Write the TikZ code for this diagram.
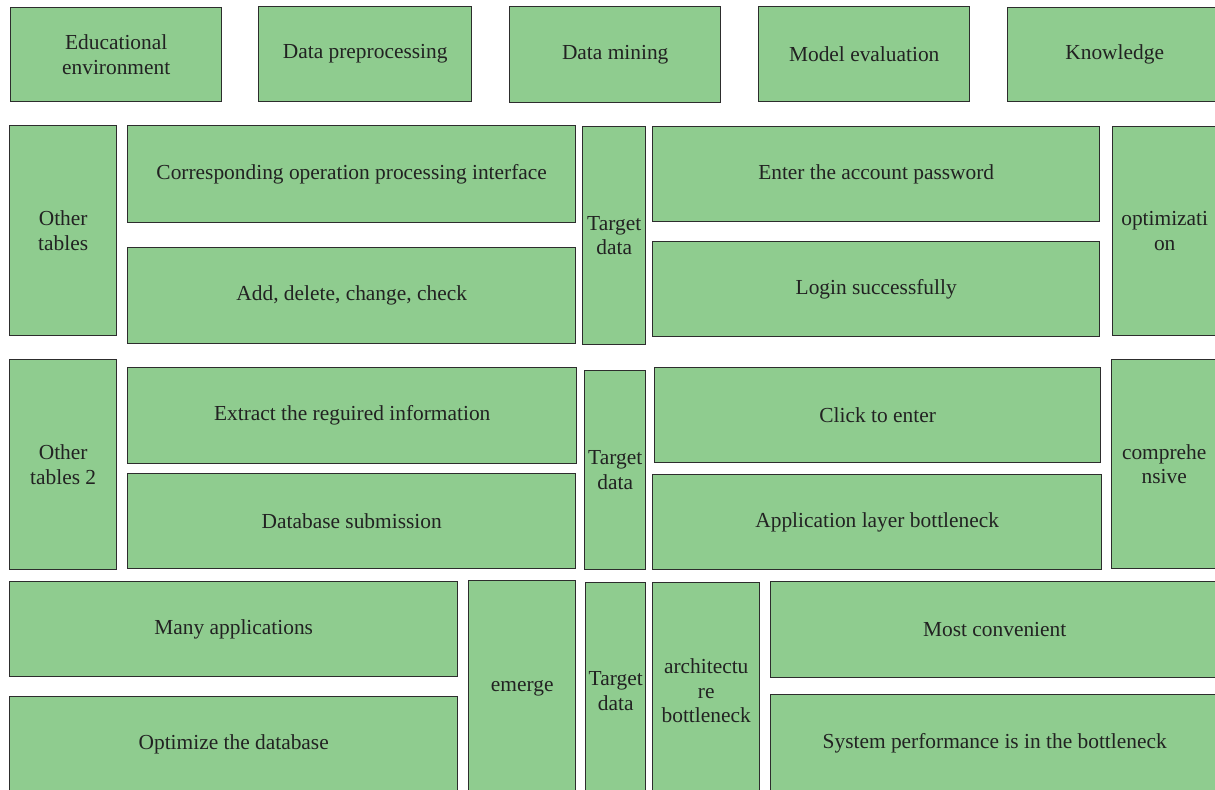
\documentclass[tikz,border=0pt]{standalone}
\usepackage{fontspec}
\setmainfont{Liberation Serif}
\definecolor{boxgreen}{RGB}{143,204,143}
\definecolor{boxline}{RGB}{45,45,45}
\definecolor{boxtext}{RGB}{34,34,34}
\begin{document}
\begin{tikzpicture}[x=0.5pt, y=-0.5pt,
  box/.style={draw=boxline, fill=boxgreen, line width=0.7pt, anchor=north west,
    inner sep=0pt, align=center, text=boxtext, font=\fontsize{10.7}{12.4}\selectfont}]
\useasboundingbox (0,0) rectangle (1215,790);
\clip (0,0) rectangle (1215,790);
% process steps
\foreach \n/\x/\y/\w/\h/\t in {edu/10/7/211/94/{Educational\\environment},
  prep/258/6/213/95/{Data preprocessing}, mining/509/6/211/96/{Data mining},
  evalm/758/6/211/95/{Model evaluation}, know/1007/7/214/94/{Knowledge}}
  \node[box, minimum width=\w*0.5pt, minimum height=\h*0.5pt] (\n) at (\x,\y) {\t};
% first block
\foreach \n/\x/\y/\w/\h/\t in {othera/9/125/107/210/{Other\\tables},
  iface/127/125/448/97/{Corresponding operation processing interface},
  crud/127/247/448/96/{Add, delete, change, check},
  targeta/582/126/63/218/{Target\\data},
  passwd/652/126/447/95/{Enter the account password},
  login/652/241/447/95/{Login successfully},
  optim/1112/126/104/209/{optimizati\\on}}
  \node[box, minimum width=\w*0.5pt, minimum height=\h*0.5pt] (\n) at (\x,\y) {\t};
% second block
\foreach \n/\x/\y/\w/\h/\t in {otherb/9/359/107/210/{Other\\tables 2},
  extract/127/367/449/96/{Extract the reguired information},
  submit/127/473/448/95/{Database submission},
  targetb/584/370/61/199/{Target\\data},
  click/654/367/446/95/{Click to enter},
  applayer/652/474/449/95/{Application layer bottleneck},
  compre/1111/359/105/209/{comprehe\\nsive}}
  \node[box, minimum width=\w*0.5pt, minimum height=\h*0.5pt] (\n) at (\x,\y) {\t};
% third block
\foreach \n/\x/\y/\w/\h/\t in {apps/9/581/448/95/{Many applications},
  optdb/9/696/448/96/{Optimize the database},
  emerge/468/580/107/216/{emerge},
  targetc/585/582/60/216/{Target\\data},
  arch/652/582/107/216/{architectu\\re\\bottleneck},
  conv/770/581/448/96/{Most convenient},
  sysperf/770/694/448/98/{System performance is in the bottleneck}}
  \node[box, minimum width=\w*0.5pt, minimum height=\h*0.5pt] (\n) at (\x,\y) {\t};
\end{tikzpicture}
\end{document}
